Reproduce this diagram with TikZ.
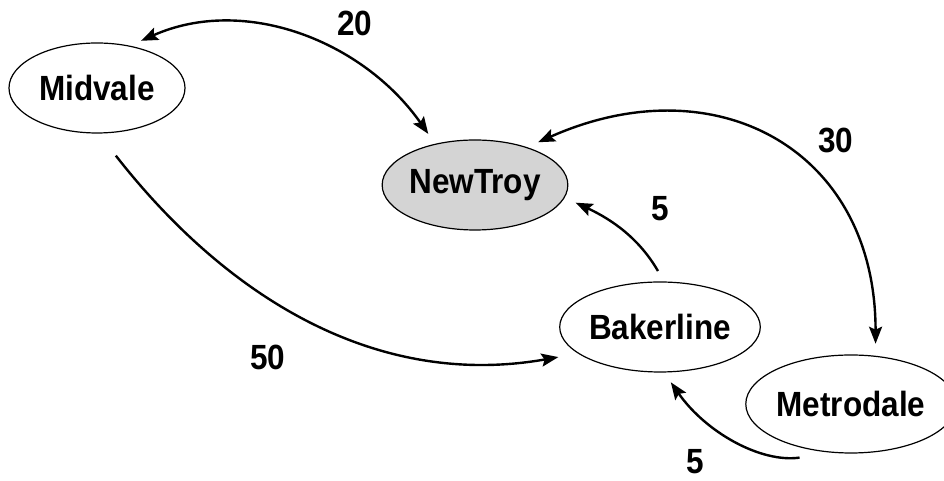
\documentclass[tikz,border=0pt]{standalone}
\usepackage{fontspec}
\setmainfont{Liberation Sans}[FakeStretch=0.9]
\usetikzlibrary{shapes.geometric,arrows.meta,positioning}
\definecolor{hubgray}{RGB}{212,212,212}

\begin{document}
\begin{tikzpicture}[x=0.5pt,y=0.5pt,
	>={Stealth[length=8.5pt,width=6.5pt,inset=1.5pt]},
	town/.style={ellipse,draw,line width=0.6pt,minimum width=88pt,minimum height=45pt,
		inner sep=0pt,font=\bfseries\fontsize{17.5}{19}\selectfont},
	flow/.style={line width=1.2pt,shorten >=6pt,shorten <=6pt},
	qty/.style={font=\bfseries\fontsize{17.5}{19}\selectfont,inner sep=1pt}]
	% page size
	\useasboundingbox (0,0) rectangle (944,481);
	
	% draw towns
	\node[town] (midvale) at (97,393) {Midvale};
	\node[town,fill=hubgray] (newtroy) at (475,296) {NewTroy};
	\node[town] (bakerline) at (660,154) {Bakerline};
	\node[town,minimum width=93pt,minimum height=49pt] (metrodale) at (851,77) {Metrodale};
	
	% draw flows
	\draw[flow,<->] (midvale.52) to[out=24,in=125] (newtroy.134);
	\draw[flow,<->] (newtroy.36) to[out=24,in=90,looseness=1.3] (metrodale.63);
	\draw[flow,->] (bakerline.85) to[out=120,in=-25] (newtroy.-8);
	\draw[flow,->,shorten <=14pt,shorten >=10pt] (midvale.-88) to[out=-52,in=190] (bakerline.198);
	\draw[flow,->,shorten <=17pt] (metrodale.-110) to[out=188,in=-55] (bakerline.-85);
	
	% draw amounts
	\node[qty] (q20) at (355,458) {20};
	\node[qty] (q30) at (836,341) {30};
	\node[qty] (q5a) at (660,272) {5};
	\node[qty] (q50) at (268,124) {50};
	\node[qty] (q5b) at (695,19) {5};
	
\end{tikzpicture}
\end{document}
